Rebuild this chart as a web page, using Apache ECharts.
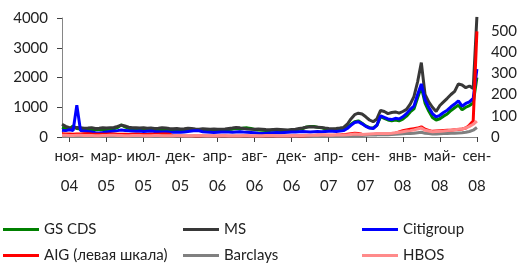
<!DOCTYPE html>
<html>
<head>
<meta charset="utf-8">
<script src="https://cdn.jsdelivr.net/npm/echarts@6/dist/echarts.min.js"></script>
<style>
  html, body { margin: 0; padding: 0; background: #fff; }
  #chart { width: 520px; height: 264px; }
</style>
</head>
<body>
<div id="chart"></div>
<script>
  // подписи оси X (месяц-год) и номера точек, где они стоят
  var tickLabels = ['ноя-\n04', 'мар-\n05', 'июл-\n05', 'дек-\n05', 'апр-\n06', 'авг-\n06',
    'дек-\n06', 'апр-\n07', 'сен-\n07', 'янв-\n08', 'май-\n08', 'сен-\n08'];
  var tickIdx = [2, 12, 22, 32, 42, 52, 62, 72, 82, 92, 102, 112];

  // CDS, б.п. (правая шкала, кроме AIG)
  var gsCds = [45, 40, 38, 52, 40, 37, 36, 35, 36, 34, 35, 36, 35, 37, 38, 44, 57, 48, 40, 38,
    37, 36, 37, 35, 36, 34, 35, 36, 35, 34, 33, 34, 33, 34, 35, 34, 33, 32, 34, 33,
    32, 33, 32, 33, 34, 35, 37, 40, 38, 42, 43, 40, 35, 33, 32, 31, 30, 33, 32, 31,
    30, 31, 32, 33, 36, 40, 47, 50, 49, 46, 44, 38, 36, 35, 36, 37, 40, 45, 60, 72,
    76, 65, 52, 44, 42, 55, 96, 88, 80, 76, 80, 76, 84, 98, 118, 132, 185, 235, 160, 122,
    92, 80, 86, 98, 108, 125, 138, 150, 128, 140, 148, 160, 280];
  var ms = [60, 50, 44, 42, 45, 43, 41, 42, 44, 40, 41, 43, 42, 44, 45, 50, 56, 52, 46, 44,
    43, 42, 44, 41, 42, 40, 41, 43, 42, 40, 39, 40, 38, 39, 41, 40, 38, 37, 39, 38,
    37, 38, 36, 37, 38, 40, 42, 45, 43, 40, 38, 37, 36, 38, 37, 35, 34, 35, 36, 35,
    34, 33, 35, 37, 40, 42, 46, 48, 47, 46, 45, 42, 40, 39, 40, 42, 45, 60, 85, 105,
    112, 108, 95, 80, 72, 85, 125, 120, 110, 115, 118, 112, 120, 130, 155, 190, 260, 350, 200, 165,
    140, 120, 148, 165, 182, 200, 215, 250, 245, 232, 240, 228, 565];
  var citi = [32, 30, 34, 31, 150, 30, 28, 26, 24, 20, 19, 21, 24, 26, 28, 30, 33, 31, 29, 28,
    27, 28, 26, 27, 28, 26, 25, 24, 25, 23, 22, 23, 22, 24, 26, 28, 30, 29, 25, 23,
    22, 21, 22, 23, 24, 23, 22, 24, 25, 23, 22, 21, 20, 18, 17, 18, 19, 20, 21, 20,
    21, 22, 23, 24, 25, 26, 25, 24, 25, 26, 25, 26, 27, 27, 26, 28, 30, 40, 55, 68,
    72, 62, 50, 42, 40, 55, 100, 92, 85, 82, 88, 85, 95, 110, 130, 145, 200, 250, 175, 140,
    110, 95, 102, 115, 126, 142, 155, 170, 145, 158, 165, 182, 320];
  var aig = [110, 105, 100, 95, 100, 105, 110, 108, 100, 95, 90, 92, 95, 100, 98, 95, 92, 90, 88, 92,
    95, 90, 88, 85, 90, 92, 95, 98, 100, 95,
    40, 35, 30, 28, 27, 25, 26, 25, 24, 23, 22, 22, 21, 20, 20, 19, 20, 21, 20, 19,
    18, 18, 17, 18, 19, 18, 17, 16, 17, 18, 18, 19, 20, 22, 25, 28, 35, 45, 50, 55,
    55, 58, 60, 62, 65, 70, 80,
    95, 110, 125, 115, 95, 85, 80, 85, 90, 95, 100, 110, 120, 130,
    170, 210, 240, 260, 280, 300, 340,
    260, 220, 190, 200, 210, 220, 225, 230, 240, 250, 270, 300, 400, 540,
    3550];
  var barclays = [5, 5, 5, 4, 4, 5, 5, 5, 4, 4, 4, 5, 5, 5, 5, 4, 4, 4, 4, 5,
    5, 5, 4, 4, 4, 4, 5, 5, 4, 4, 4, 4, 4, 4, 4, 4, 5, 5, 4, 4,
    4, 4, 4, 4, 4, 4, 4, 4, 4, 4, 4, 4, 4, 4, 4, 4, 4, 4, 4, 4,
    4, 4, 4, 4, 5, 5, 5, 5, 5, 5, 5, 5, 5, 5, 5, 6, 6, 6, 7, 7, 7,
    7, 8, 9, 10, 10, 11, 12, 11, 12, 13, 14, 15, 16, 17, 18, 20, 22,
    18, 16, 14, 14, 15, 16, 17, 18, 18, 19, 20, 22, 26, 32,
    45];
  var hbos = [8, 8, 7, 7, 8, 8, 7, 7, 7, 6, 6, 7, 7, 8, 8, 7, 7, 6, 6, 7,
    7, 7, 6, 6, 6, 7, 7, 6, 6, 6, 6, 7, 7, 6, 6, 6, 7, 7, 7, 6,
    6, 6, 6, 7, 7, 6, 6, 6, 6, 7, 7, 6, 6, 6, 6, 7, 7, 7, 6, 6,
    6, 6, 7, 7, 7, 7, 8, 8, 8, 8, 9, 9, 8, 8, 9, 9,
    9, 10, 12, 14, 13, 12, 13, 14, 15, 16, 17, 16, 17, 18, 20,
    22, 25, 28, 30, 33, 38, 42,
    32, 28, 25, 26, 27, 28, 30, 32, 34, 36, 38, 42, 50, 60,
    75];

  var categories = gsCds.map(function (v, i) {
    var k = tickIdx.indexOf(i);
    return k >= 0 ? tickLabels[k] : 'p' + i;
  });
  var isTick = function (i) { return tickIdx.indexOf(i) >= 0; };

  var font = 'Lato';
  var txt = '#222';

  var lines = [
    { name: 'GS CDS', data: gsCds, color: '#008000', axis: 1 },
    { name: 'MS', data: ms, color: '#383838', axis: 1 },
    { name: 'Citigroup', data: citi, color: '#0000ff', axis: 1 },
    { name: 'AIG (левая шкала)', data: aig, color: '#ff0000', axis: 0 },
    { name: 'Barclays', data: barclays, color: '#808080', axis: 1 },
    { name: 'HBOS', data: hbos, color: '#ff8a8a', axis: 1 }
  ];

  // легенда: три колонки по два ряда
  var legendLeft = [3, 183, 362, 3, 183, 362];
  var legendTop = [222, 222, 222, 248, 248, 248];

  var chart = echarts.init(document.getElementById('chart'));
  chart.setOption({
    animation: false,
    grid: { left: 62, right: 40, top: 18, bottom: 127 },
    legend: lines.map(function (s, i) {
      return {
        data: [s.name],
        left: legendLeft[i],
        top: legendTop[i],
        padding: 0,
        icon: 'rect',
        itemWidth: 36,
        itemHeight: 3,
        textStyle: { fontFamily: font, fontSize: 15, color: txt }
      };
    }),
    xAxis: {
      type: 'category',
      data: categories,
      boundaryGap: false,
      axisLine: { lineStyle: { color: '#868686' } },
      axisTick: { interval: function (i) { return isTick(i); }, length: 5, lineStyle: { color: '#404040' } },
      axisLabel: {
        interval: function (i) { return isTick(i); },
        fontFamily: font, fontSize: 15, color: txt, lineHeight: 30, margin: 4
      }
    },
    yAxis: [{
      type: 'value',
      min: 0, max: 4000, interval: 1000,
      splitLine: { show: false },
      axisLine: { show: true, lineStyle: { color: '#868686' } },
      axisTick: { show: true, length: 5, lineStyle: { color: '#404040' } },
      axisLabel: {
        fontFamily: font, fontSize: 15, color: txt, margin: 14,
        formatter: function (v) { return String(v); }
      }
    }, {
      type: 'value',
      min: 0, max: 560, interval: 100,
      splitLine: { show: false },
      axisLine: { show: false },
      axisTick: { show: false },
      axisLabel: {
        fontFamily: font, fontSize: 15, color: txt, margin: 14,
        formatter: function (v) { return v % 100 === 0 ? String(v) : ''; }
      }
    }],
    series: lines.map(function (s) {
      return {
        name: s.name,
        type: 'line',
        yAxisIndex: s.axis,
        data: s.data,
        showSymbol: false,
        symbol: 'none',
        color: s.color,
        lineStyle: { width: 3, color: s.color }
      };
    })
  });
</script>
</body>
</html>
